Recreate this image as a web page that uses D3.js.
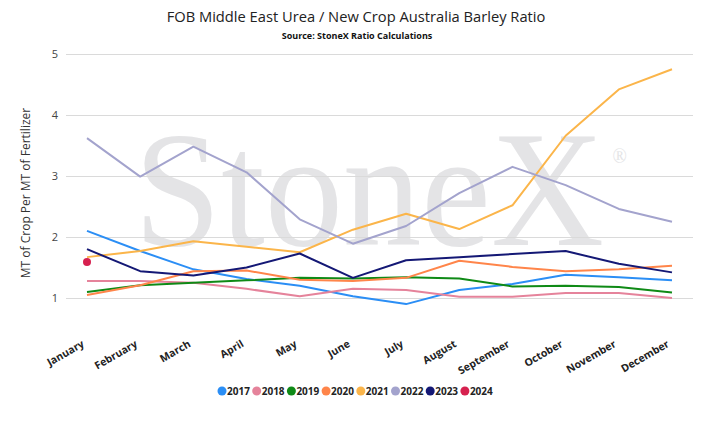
<!DOCTYPE html>
<html>
<head>
<meta charset="utf-8">
<script src="https://cdn.jsdelivr.net/npm/d3@7"></script>
<style>
  body { margin: 0; background: #fff; }
  svg { display: block; font-family: 'Open Sans', sans-serif; }
</style>
</head>
<body>
<div id="chart"></div>
<script>
const months = ['January', 'February', 'March', 'April', 'May', 'June', 'July',
  'August', 'September', 'October', 'November', 'December']
const years = ['2017', '2018', '2019', '2020', '2021', '2022', '2023', '2024']
const colors = ['#2b8ef5', '#e5839b', '#0f8a16', '#ff854a', '#fbb54a', '#a3a3cd', '#141875', '#d6214f']
const yTicks = [1, 2, 3, 4, 5]

const v2017 = [2.10, 1.77, 1.47, 1.31, 1.20, 1.03, 0.90, 1.13, 1.23, 1.38, 1.34, 1.29]
const v2018 = [1.28, 1.28, 1.25, 1.15, 1.03, 1.15, 1.13, 1.02, 1.02, 1.08, 1.08, 1.00]
const v2019 = [1.10, 1.21, 1.25, 1.29, 1.33, 1.32, 1.34, 1.32, 1.19, 1.20, 1.18, 1.09]
const v2020 = [1.05, 1.21, 1.44, 1.45, 1.30, 1.28, 1.33, 1.61, 1.51, 1.44, 1.47, 1.53]
const v2021 = [1.67, 1.77, 1.93, 1.84, 1.75, 2.12, 2.38, 2.13, 2.52, 3.66, 4.42, 4.75]
const v2022 = [3.62, 2.99, 3.48, 3.06, 2.29, 1.89, 2.18, 2.72, 3.15, 2.85, 2.46, 2.25]
const v2023 = [1.80, 1.44, 1.37, 1.50, 1.73, 1.33, 1.62, 1.67, 1.72, 1.77, 1.56, 1.42]
const v2024 = [1.59]

const seriesValues = [v2017, v2018, v2019, v2020, v2021, v2022, v2023, v2024]

const width = 714
const height = 425

const svg = d3.select('#chart').append('svg')
  .attr('width', width)
  .attr('height', height)

const x = d3.scalePoint().domain(months).range([87, 672])
const y = d3.scaleLinear().domain([1, 5]).range([298, 54])

// watermark, squeezed a bit to match the logo width
const mark = svg.append('text')
  .attr('transform', 'translate(134, 245) scale(0.944, 1)')
  .attr('font-family', "'Liberation Serif', serif")
  .attr('font-size', 166)
  .attr('fill', '#e4e4e6')
mark.append('tspan').text('StoneX')
mark.append('tspan')
  .attr('font-size', 20)
  .attr('dx', 9)
  .attr('dy', -82)
  .text('®')

// grid
svg.append('g')
  .attr('class', 'grid')
  .selectAll('line')
  .data(yTicks)
  .join('line')
  .attr('x1', 66)
  .attr('x2', 693)
  .attr('y1', d => y(d) + 0.5)
  .attr('y2', d => y(d) + 0.5)
  .attr('stroke', '#dadada')

svg.append('g')
  .selectAll('text')
  .data(yTicks)
  .join('text')
  .attr('x', 58)
  .attr('y', d => y(d) + 4)
  .attr('text-anchor', 'end')
  .attr('font-size', 11)
  .attr('fill', '#444')
  .text(d => d)

svg.append('text')
  .attr('transform', 'translate(30, 193) rotate(-90)')
  .attr('text-anchor', 'middle')
  .attr('font-size', 12)
  .attr('fill', '#333')
  .text('MT of Crop Per MT of Fertilizer')

// x labels
svg.append('g')
  .selectAll('text')
  .data(months)
  .join('text')
  .attr('transform', d => `translate(${x(d) - 2}, 346) rotate(-30)`)
  .attr('text-anchor', 'end')
  .attr('font-size', 10.5)
  .attr('font-weight', 'bold')
  .attr('fill', '#222')
  .text(d => d)

// lines
const line = d3.line()
  .x((d, i) => x(months[i]))
  .y(d => y(d))

svg.append('g')
  .attr('class', 'lines')
  .selectAll('path')
  .data(seriesValues)
  .join('path')
  .attr('d', d => line(d))
  .attr('fill', 'none')
  .attr('stroke', (d, i) => colors[i])
  .attr('stroke-width', 2)
  .attr('stroke-linejoin', 'round')

// lone 2024 point gets a marker
svg.append('circle')
  .attr('cx', x(months[0]))
  .attr('cy', y(v2024[0]))
  .attr('r', 4)
  .attr('fill', colors[7])

// title
svg.append('text')
  .attr('x', 356)
  .attr('y', 22)
  .attr('text-anchor', 'middle')
  .attr('font-size', 14.7)
  .attr('fill', '#222')
  .text('FOB Middle East Urea / New Crop Australia Barley Ratio')

svg.append('text')
  .attr('x', 357)
  .attr('y', 39)
  .attr('text-anchor', 'middle')
  .attr('font-size', 9)
  .attr('font-weight', 'bold')
  .attr('fill', '#111')
  .text('Source: StoneX Ratio Calculations')

// legend
const legend = svg.append('g')
  .selectAll('g')
  .data(years)
  .join('g')
  .attr('transform', (d, i) => `translate(${222 + i * 34.7}, 391)`)

legend.append('circle')
  .attr('r', 4.5)
  .attr('fill', (d, i) => colors[i])

legend.append('text')
  .attr('x', 5)
  .attr('y', 3.5)
  .attr('font-size', 10)
  .attr('font-weight', 'bold')
  .attr('fill', '#222')
  .text(d => d)
</script>
</body>
</html>
